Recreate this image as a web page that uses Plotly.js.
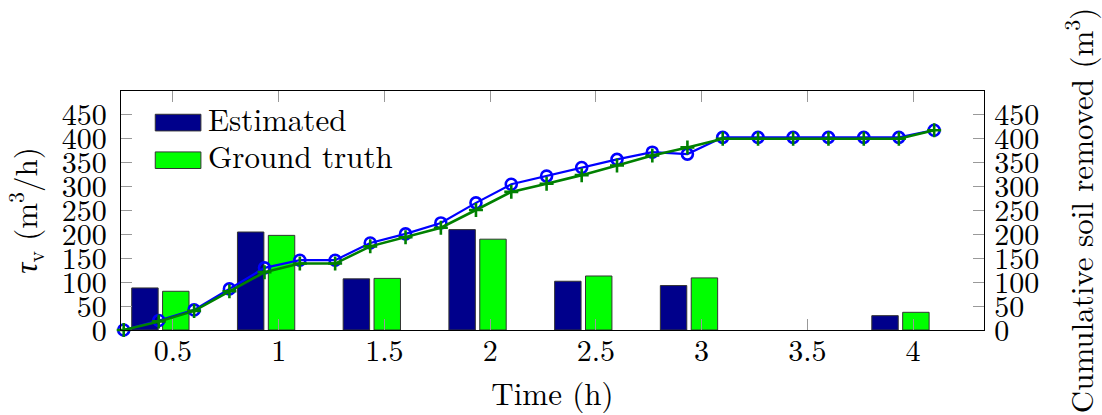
<!DOCTYPE html>
<html>
<head>
<meta charset="utf-8">
<script src="https://cdn.plot.ly/plotly-3.0.1.min.js"></script>
<style>
html,body{margin:0;padding:0;background:#fff;}
#chart{width:1102px;height:415px;}
#chart svg text{font-family:'Latin Modern Roman','Liberation Serif',serif !important;}
</style>
</head>
<body>
<div id="chart"></div>
<script>
// Bar chart data (rate, m^3/h)
const barTimes = [0.5, 1, 1.5, 2, 2.5, 3, 3.5, 4];
const rateEstimated = [88, 205, 107, 210, 102, 93, 0, 30];
const rateGroundTruth = [81, 198, 108, 190, 113, 109, 0, 37];

// Cumulative data (m^3)
const cumTimes = [0.267, 0.433, 0.6, 0.767, 0.933, 1.1, 1.267, 1.433, 1.6, 1.767, 1.933, 2.1,
                  2.267, 2.433, 2.6, 2.767, 2.933, 3.1, 3.267, 3.433, 3.6, 3.767, 3.933, 4.1];
const cumEstimated = [0, 20, 42, 86, 130, 146, 146, 182, 201, 224, 266, 305,
                      322, 340, 357, 372, 368, 403, 403, 403, 403, 403, 403, 418];
const cumGroundTruth = [0, 18, 40, 81, 121, 139, 139, 175, 194, 214, 251, 289,
                        306, 324, 344, 365, 382, 400, 400, 400, 400, 400, 400, 418];

const xTickVals = [0.5, 1, 1.5, 2, 2.5, 3, 3.5, 4];
const xTickText = ['0.5', '1', '1.5', '2', '2.5', '3', '3.5', '4'];
const yTickVals = [0, 50, 100, 150, 200, 250, 300, 350, 400, 450];
const yTickText = ['0', '50', '100', '150', '200', '250', '300', '350', '400', '450'];

const legendLabels = ['Estimated', 'Ground truth'];

const FONT = 'Latin Modern Roman';
const navy = '#00008b';
const lime = '#00ff00';

const outline = v => (v > 0 ? 1 : 0);

const traces = [
  {type: 'bar', x: barTimes, y: rateEstimated, width: 0.125, offset: -0.195,
   marker: {color: navy, line: {color: '#333', width: rateEstimated.map(outline)}}, name: legendLabels[0],
   showlegend: false, xaxis: 'x', yaxis: 'y', hoverinfo: 'skip'},
  {type: 'bar', x: barTimes, y: rateGroundTruth, width: 0.125, offset: -0.049,
   marker: {color: lime, line: {color: '#333', width: rateGroundTruth.map(outline)}}, name: legendLabels[1],
   showlegend: false, xaxis: 'x', yaxis: 'y', hoverinfo: 'skip'},
  {type: 'scatter', mode: 'lines+markers', x: cumTimes, y: cumEstimated,
   line: {color: '#0000ff', width: 2.2},
   marker: {symbol: 'circle-open', size: 11, color: '#0000ff', line: {color: '#0000ff', width: 2.6}},
   showlegend: false, xaxis: 'x', yaxis: 'y2', cliponaxis: false},
  {type: 'scatter', mode: 'lines+markers', x: cumTimes, y: cumGroundTruth,
   line: {color: '#008000', width: 2.6},
   marker: {symbol: 'cross-thin-open', size: 10, color: '#008000', line: {color: '#008000', width: 2.6}},
   showlegend: false, xaxis: 'x', yaxis: 'y2', cliponaxis: false}
];

const axisCommon = {
  ticks: 'inside', ticklen: 11, tickwidth: 1, tickcolor: '#999',
  showline: true, linecolor: '#000', linewidth: 1.3,
  showgrid: false, zeroline: false,
  tickfont: {family: FONT, size: 30, color: '#000'}
};

const layout = {
  width: 1102, height: 415,
  margin: {l: 121, r: 118, t: 91, b: 85, pad: 0},
  paper_bgcolor: '#fff', plot_bgcolor: '#fff',
  font: {family: FONT, color: '#000'},
  barmode: 'overlay',
  showlegend: false,
  xaxis: Object.assign({}, axisCommon, {
    range: [0.2543, 4.3356], tickmode: 'array', tickvals: xTickVals, ticktext: xTickText,
    mirror: 'ticks', ticklabelstandoff: -6,
    title: {text: 'Time (h)', font: {family: FONT, size: 31, color: '#000'}, standoff: 8}
  }),
  yaxis: Object.assign({}, axisCommon, {
    range: [0, 500], tickmode: 'array', tickvals: yTickVals, ticktext: yTickText,
    ticklabelstandoff: 7,
    title: {text: '<i>τ</i><sub>v</sub> (m<sup>3</sup>/h)', font: {family: FONT, size: 31, color: '#000'}, standoff: 21}
  }),
  yaxis2: Object.assign({}, axisCommon, {
    range: [0, 500], tickmode: 'array', tickvals: yTickVals, ticktext: yTickText,
    overlaying: 'y', side: 'right', ticklabelstandoff: 3,
    title: {text: 'Cumulative soil removed (m<sup>3</sup>)', font: {family: FONT, size: 31, color: '#000'}, standoff: 48}
  }),
  shapes: [
    {type: 'rect', xref: 'paper', yref: 'paper', x0: 0.0397, x1: 0.0926, y0: 0.8329, y1: 0.9026,
     fillcolor: navy, line: {color: '#333', width: 1}},
    {type: 'rect', xref: 'paper', yref: 'paper', x0: 0.0397, x1: 0.0926, y0: 0.6757, y1: 0.7451,
     fillcolor: lime, line: {color: '#333', width: 1}}
  ],
  annotations: [
    {xref: 'paper', yref: 'paper', x: 0.0985, y: 0.889, xanchor: 'left', yanchor: 'middle',
     text: legendLabels[0], showarrow: false, font: {family: FONT, size: 31, color: '#000'}},
    {xref: 'paper', yref: 'paper', x: 0.0985, y: 0.731, xanchor: 'left', yanchor: 'middle',
     text: legendLabels[1], showarrow: false, font: {family: FONT, size: 31, color: '#000'}}
  ]
};

Plotly.newPlot('chart', traces, layout, {staticPlot: true, displayModeBar: false});
</script>
</body>
</html>
